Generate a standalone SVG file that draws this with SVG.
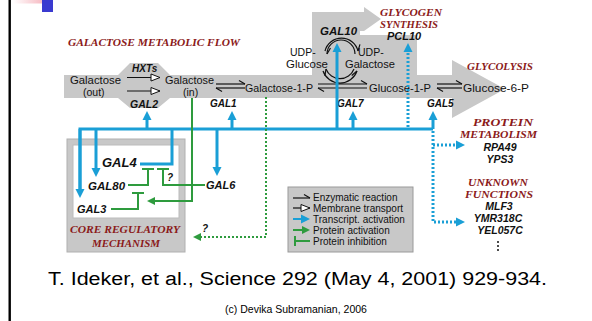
<svg xmlns="http://www.w3.org/2000/svg" width="592" height="321" viewBox="0 0 592 321">
<style>
.m{font-family:"Liberation Sans",Arial,sans-serif;font-size:10.5px;fill:#111}
.g{font-family:"Liberation Sans",Arial,sans-serif;font-weight:bold;font-style:italic;fill:#111}
.h{font-family:"Liberation Serif","Times New Roman",serif;font-weight:bold;font-style:italic;font-size:11px;fill:#8b1a1a}
.lg{font-family:"Liberation Sans",Arial,sans-serif;font-size:10px;fill:#111}
.blue{stroke:#1a9fd6;stroke-width:3;fill:none}
.bdot{stroke:#1a9fd6;stroke-width:3;fill:none;stroke-dasharray:2,2}
.grn{stroke:#2e9b3e;stroke-width:2;fill:none}
.gdot{stroke:#2e9b3e;stroke-width:2;fill:none;stroke-dasharray:2,2}
.rx{stroke:#111;stroke-width:1.2;fill:none}
.flow{fill:#c8c8c8}
</style>
<defs>
<linearGradient id="pink" x1="0" x2="1" y1="0" y2="0">
<stop offset="0" stop-color="#ffffff"/>
<stop offset="1" stop-color="#f3a3ae"/>
</linearGradient>
<marker id="ab" viewBox="-5 -5 11 10" markerWidth="11" markerHeight="10" refX="0" refY="0" markerUnits="userSpaceOnUse" orient="auto">
<path d="M-4,-4.5 L5,0 L-4,4.5 Z" fill="#1a9fd6"/>
</marker>
<marker id="ag" viewBox="-4 -5 10 10" markerWidth="10" markerHeight="10" refX="0" refY="0" markerUnits="userSpaceOnUse" orient="auto">
<path d="M-3,-4 L5,0 L-3,4 Z" fill="#2e9b3e"/>
</marker>
<marker id="hp" viewBox="-7 -5 8 10" markerWidth="8" markerHeight="10" refX="0" refY="0" markerUnits="userSpaceOnUse" orient="auto">
<path d="M0,0 L-6,-3.5" stroke="#111" stroke-width="1.2" fill="none"/>
</marker>
<marker id="mt" viewBox="-10 -5 11 10" markerWidth="11" markerHeight="10" refX="0" refY="0" markerUnits="userSpaceOnUse" orient="auto">
<path d="M-9,-3.5 L0,0 L-9,3.5 Z" fill="#fff" stroke="#111" stroke-width="1"/>
</marker>
</defs>

<rect width="592" height="321" fill="#fff"/>
<!-- slide decoration -->
<rect x="8.5" y="0" width="2.4" height="321" fill="#000"/>
<rect x="13" y="0" width="40" height="3.5" fill="url(#pink)"/>
<rect x="42" y="0" width="11" height="12" fill="#3a3ad0"/>

<!-- flow background -->
<g id="flow">
<path class="flow" d="M64,75 L118,75 L130,63 L158,63 L170,75 L452,75 L452,60 L505,89 L452,118 L452,98 L170,98 L158,108 L130,108 L118,98 L64,98 Z"/>
<path class="flow" d="M312,76 L312,12 L364,12 L364,7 L381,19 L364,31 L360,31 L360,76 Z"/>
<rect class="flow" x="358" y="35" width="59" height="41"/>
</g>

<!-- headings -->
<g id="headings">
<text class="h" x="68" y="46" font-size="13" textLength="172" lengthAdjust="spacingAndGlyphs">GALACTOSE METABOLIC FLOW</text>
<text class="h" x="380" y="16" textLength="62" lengthAdjust="spacingAndGlyphs">GLYCOGEN</text>
<text class="h" x="380" y="28" textLength="58" lengthAdjust="spacingAndGlyphs">SYNTHESIS</text>
<text class="h" x="467" y="70" font-size="12" textLength="66" lengthAdjust="spacingAndGlyphs">GLYCOLYSIS</text>
<text class="h" x="473" y="126" textLength="60" lengthAdjust="spacingAndGlyphs">PROTEIN</text>
<text class="h" x="460" y="138" textLength="77" lengthAdjust="spacingAndGlyphs">METABOLISM</text>
<text class="h" x="468" y="186" textLength="60" lengthAdjust="spacingAndGlyphs">UNKNOWN</text>
<text class="h" x="465" y="198" textLength="68" lengthAdjust="spacingAndGlyphs">FUNCTIONS</text>
</g>

<!-- core regulatory box -->
<g id="core">
<rect x="67" y="139" width="118" height="113" fill="#c8c8c8" stroke="#b0b0b0"/>
<rect x="73" y="145" width="106" height="73" fill="#fff" stroke="#bbb"/>
<text class="h" x="70" y="233" font-size="12.5" textLength="110" lengthAdjust="spacingAndGlyphs">CORE REGULATORY</text>
<text class="h" x="92" y="247" font-size="12.5" textLength="68" lengthAdjust="spacingAndGlyphs">MECHANISM</text>
</g>

<!-- metabolites -->
<g id="galactose-out"><text class="m" x="70" y="84" textLength="51" lengthAdjust="spacingAndGlyphs">Galactose</text><text class="m" x="83" y="96">(out)</text></g>
<g id="galactose-in"><text class="m" x="165" y="84" textLength="49" lengthAdjust="spacingAndGlyphs">Galactose</text><text class="m" x="183" y="96">(in)</text></g>
<g id="galactose-1-p"><text class="m" x="245" y="92" textLength="68" lengthAdjust="spacingAndGlyphs">Galactose-1-P</text></g>
<g id="glucose-1-p"><text class="m" x="369" y="92" textLength="62" lengthAdjust="spacingAndGlyphs">Glucose-1-P</text></g>
<g id="glucose-6-p"><text class="m" x="463" y="92" textLength="66" lengthAdjust="spacingAndGlyphs">Glucose-6-P</text></g>
<g id="udp-glucose"><text class="m" x="290" y="56" font-size="10">UDP-</text><text class="m" x="286" y="68" font-size="10" textLength="42" lengthAdjust="spacingAndGlyphs">Glucose</text></g>
<g id="udp-galactose"><text class="m" x="358" y="56" font-size="10">UDP-</text><text class="m" x="345" y="68" font-size="10" textLength="50" lengthAdjust="spacingAndGlyphs">Galactose</text></g>

<!-- enzymes / genes -->
<g id="hxts"><text class="g" x="132" y="72" font-size="10">HXTs</text></g>
<g id="gal2"><text class="g" x="130" y="108" font-size="10.5">GAL2</text></g>
<g id="gal1"><text class="g" x="210" y="107" font-size="10">GAL1</text></g>
<g id="gal7"><text class="g" x="337" y="107" font-size="10">GAL7</text></g>
<g id="gal5"><text class="g" x="427" y="107" font-size="10">GAL5</text></g>
<g id="gal10"><text class="g" x="320" y="35" font-size="11.5">GAL10</text></g>
<g id="pcl10"><text class="g" x="387" y="40" font-size="11">PCL10</text></g>
<g id="gal4"><text class="g" x="102" y="167" font-size="13">GAL4</text></g>
<g id="gal80"><text class="g" x="88" y="190" font-size="11.5">GAL80</text></g>
<g id="gal3"><text class="g" x="77" y="213" font-size="11">GAL3</text></g>
<g id="gal6"><text class="g" x="206" y="189" font-size="11">GAL6</text></g>
<g id="protein-genes"><text class="g" x="500" y="151" font-size="10.5" text-anchor="middle">RPA49</text><text class="g" x="500" y="163" font-size="10.5" text-anchor="middle">YPS3</text></g>
<g id="unknown-genes"><text class="g" x="499" y="210" font-size="10.5" text-anchor="middle">MLF3</text><text class="g" x="498" y="222" font-size="10.5" text-anchor="middle">YMR318C</text><text class="g" x="500" y="234" font-size="10.5" text-anchor="middle">YEL057C</text>
<circle cx="498" cy="242" r="1" fill="#111"/><circle cx="498" cy="246" r="1" fill="#111"/><circle cx="498" cy="250" r="1" fill="#111"/></g>

<!-- connectors -->
<g id="connectors">
<!-- membrane transport -->
<path class="rx" d="M127,77.5 L160,77.5" marker-end="url(#mt)"/>
<path class="rx" d="M127,91 L160,91" marker-end="url(#mt)"/>
<!-- enzymatic reactions -->
<path class="rx" d="M216,84 L245,84" marker-end="url(#hp)"/>
<path class="rx" d="M245,88 L216,88" marker-end="url(#hp)"/>
<path class="rx" d="M318,84 L367,84" marker-end="url(#hp)"/>
<path class="rx" d="M367,88 L318,88" marker-end="url(#hp)"/>
<path class="rx" d="M437,84 L462,84" marker-end="url(#hp)"/>
<path class="rx" d="M462,88 L437,88" marker-end="url(#hp)"/>
<!-- GAL10 cycle -->
<path class="rx" d="M325,51 A17,17 0 0 1 358,51" marker-end="url(#hp)"/>
<path class="rx" d="M355,54 A14,14 0 0 0 327,54" marker-end="url(#hp)"/>
<path class="rx" d="M323,71 A18,18 0 0 0 357,71" marker-end="url(#hp)"/>
<path class="rx" d="M354,69 A15,15 0 0 1 326,69" marker-end="url(#hp)"/>

<!-- transcriptional activation (blue) -->
<path class="blue" d="M80,193 L80,129 L433,129"/>
<path class="blue" d="M80,129 L80,193" marker-end="url(#ab)"/>
<path class="blue" d="M96,129 L96,172" marker-end="url(#ab)"/>
<path class="blue" d="M140,164 L172,164 L172,129"/>
<path class="blue" d="M217,129 L217,171" marker-end="url(#ab)"/>
<path class="blue" d="M147,129 L147,116" marker-end="url(#ab)"/>
<path class="blue" d="M232,129 L232,116" marker-end="url(#ab)"/>
<path class="blue" d="M337,129 L337,48" marker-end="url(#ab)"/>
<path class="blue" d="M353,129 L353,116" marker-end="url(#ab)"/>
<path class="blue" d="M433,129 L433,116" marker-end="url(#ab)"/>
<path class="bdot" d="M408,127 L408,48" marker-end="url(#ab)"/>
<path class="bdot" d="M433,131 L433,222 L460,222" marker-end="url(#ab)"/>
<path class="bdot" d="M433,145 L460,145" marker-end="url(#ab)"/>

<!-- protein activation / inhibition (green) -->
<path class="grn" d="M192,98 L192,201 L152,201" marker-end="url(#ag)"/>
<path class="gdot" d="M266,97 L266,237 L198,237" marker-end="url(#ag)"/>
<path class="grn" d="M128,185 L148,185 L148,169 M142,169 L154,169"/>
<path class="grn" d="M205,185 L163,185 L163,169 M157,169 L169,169"/>
<path class="grn" d="M111,209 L138,209 L138,193 M132,193 L144,193"/>
<text class="g" x="167" y="181" font-size="10" font-style="normal">?</text>
<text class="g" x="202" y="232" font-size="10" font-style="normal">?</text>
</g>

<!-- legend -->
<g id="legend">
<rect x="288" y="187" width="125" height="65" fill="#c8c8c8" stroke="#9a9a9a"/>
<path class="rx" d="M293,198 L310,198" marker-end="url(#hp)"/>
<path class="rx" d="M293,208 L310,208" marker-end="url(#mt)"/>
<path d="M293,219 L305,219" stroke="#1a9fd6" stroke-width="2" marker-end="url(#ab)"/>
<path d="M293,230 L305,230" stroke="#2e9b3e" stroke-width="2" marker-end="url(#ag)"/>
<path class="grn" d="M295,236 L295,246 M295,241 L310,241"/>
<text class="lg" x="313" y="200.5">Enzymatic reaction</text>
<text class="lg" x="313" y="211.5">Membrane transport</text>
<text class="lg" x="313" y="222.5">Transcript. activation</text>
<text class="lg" x="313" y="233.5">Protein activation</text>
<text class="lg" x="313" y="244.5">Protein inhibition</text>
</g>

<!-- slide citation -->
<g id="citation">
<text x="48" y="285" font-family="'Liberation Sans',Arial,sans-serif" font-size="18" fill="#000" textLength="499" lengthAdjust="spacingAndGlyphs">T. Ideker, et al., Science 292 (May 4, 2001) 929-934.</text>
<text x="296" y="313" font-family="'Liberation Sans',Arial,sans-serif" font-size="10.5" fill="#000" text-anchor="middle">(c) Devika Subramanian, 2006</text>
</g>
</svg>
